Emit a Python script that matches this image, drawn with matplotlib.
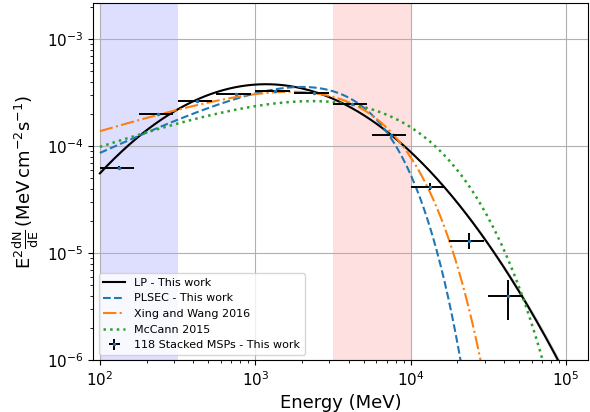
import numpy as np
import matplotlib
matplotlib.use("Agg")
import matplotlib.pyplot as plt

# stacked MSP spectrum, quarter-decade bins (MeV, MeV cm^-2 s^-1)
e_center = [133, 237, 422, 750, 1334, 2371, 4217, 7499, 13335, 23714, 42170]
e_err = [33, 59, 106, 188, 334, 593, 1055, 1876, 3335, 5931, 10547]
flux = [6.3e-5, 2.0e-4, 2.65e-4, 3.1e-4, 3.25e-4, 3.15e-4, 2.47e-4, 1.27e-4, 4.2e-5, 1.31e-5, 3.96e-6]
flux_err = [2e-6, 3e-6, 3e-6, 3e-6, 3e-6, 3e-6, 3e-6, 3e-6, 3e-6, 2.2e-6, 1.6e-6]

# model parameters (pivot E0 = 1 GeV)
E0 = 1000.0
lp_par = dict(N0=3.77e-10, alpha=1.90, beta=0.317)
lp_sig = dict(alpha=0.004, beta=0.004)
plsec_par = dict(N0=4.14e-10, gamma=1.33, Ec=3140.0, b=1.10)
xing_par = dict(N0=4.0e-10, gamma=1.55, Ec=3760.0, b=1.0)
mccann_par = dict(N0=3.61e-10, gamma=1.473, Ec=3467.0, b=0.695)

# shaded energy ranges
low_band = (100, 316)
high_band = (3162, 10000)


def sed_lp(E, N0, alpha, beta):
    x = E / E0
    return E**2 * N0 * x ** (-(alpha + beta * np.log(x)))


def sed_plsec(E, N0, gamma, Ec, b):
    return E**2 * N0 * (E / E0) ** (-gamma) * np.exp(-(E / Ec) ** b)


E = np.logspace(2, 5.15, 400)
lp = sed_lp(E, **lp_par)
u = np.log10(E / E0)
dlog = np.sqrt((lp_sig['alpha'] * u) ** 2 + (lp_sig['beta'] * np.log(10) * u**2) ** 2)

fig = plt.figure(figsize=(5.9, 4.12), dpi=100)
ax = fig.add_axes([0.158, 0.126, 0.839, 0.866])

ax.axvspan(*low_band, color='blue', alpha=0.13, lw=0)
ax.axvspan(*high_band, color='red', alpha=0.12, lw=0)

ax.fill_between(E, lp * 10 ** (-dlog), lp * 10 ** dlog, color='grey', alpha=0.3, lw=0)
ax.plot(E, lp, color='k', lw=1.5, label='LP - This work')
ax.plot(E, sed_plsec(E, **plsec_par), '--', color='C0', lw=1.5, label='PLSEC - This work')
ax.plot(E, sed_plsec(E, **xing_par), '-.', color='C1', lw=1.5, label='Xing and Wang 2016')
ax.plot(E, sed_plsec(E, **mccann_par), ':', color='C2', lw=1.8, label='McCann 2015')
ax.errorbar(e_center, flux, xerr=e_err, yerr=flux_err, fmt='.', ms=3, color='C0',
            ecolor='k', elinewidth=1.4, label='118 Stacked MSPs - This work', zorder=5)

ax.set_xscale('log')
ax.set_yscale('log')
ax.set_xlim(90.6, 1.39e5)
ax.set_ylim(1e-6, 2.17e-3)
ax.grid(True, which='major', color='#b0b0b0', lw=0.8)
ax.tick_params(labelsize=11)

ax.set_xlabel('Energy (MeV)', fontsize=13)
ax.set_ylabel(r'$\mathrm{E^{2}\frac{dN}{dE}\,(MeV\,cm^{-2}s^{-1})}$', fontsize=13)
ax.legend(loc='lower left', fontsize=8)

fig.savefig('out.png', dpi=100)
